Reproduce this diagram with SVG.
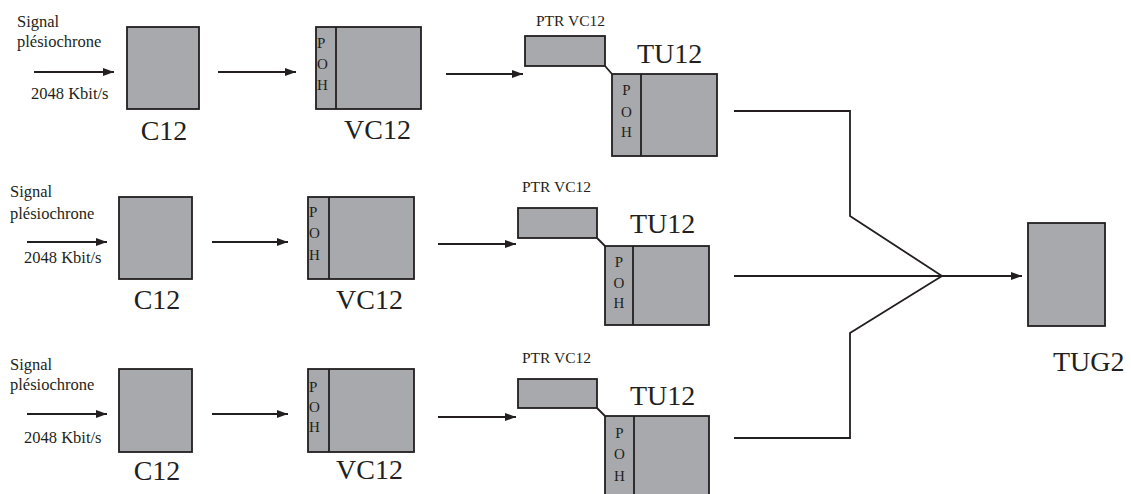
<svg xmlns="http://www.w3.org/2000/svg" width="1131" height="494" viewBox="0 0 1131 494">
<style>
.box{fill:#a7a9ac;stroke:#231f20;stroke-width:1.8}
.ln{fill:none;stroke:#231f20;stroke-width:1.8}
text{fill:#231f20}
.s{font-size:16.5px}
.big{font-size:28px}
.poh{font-size:15px}
.ptr{font-size:15.5px}
.m{text-anchor:middle}
</style>
<defs>
<marker id="ah" markerUnits="userSpaceOnUse" markerWidth="12" markerHeight="9" refX="11" refY="4.5" orient="auto">
<path d="M0,0.5 L11,4.5 L0,8.5 z" fill="#231f20"/>
</marker>
</defs>
<g id="connectors">
<line class="ln" x1="34" y1="72" x2="114" y2="72" marker-end="url(#ah)"/>
<line class="ln" x1="218" y1="72" x2="296" y2="72" marker-end="url(#ah)"/>
<line class="ln" x1="446" y1="74" x2="523" y2="74" marker-end="url(#ah)"/>
<line class="ln" x1="27" y1="242" x2="107" y2="242" marker-end="url(#ah)"/>
<line class="ln" x1="212" y1="242" x2="288" y2="242" marker-end="url(#ah)"/>
<line class="ln" x1="438" y1="244" x2="516" y2="244" marker-end="url(#ah)"/>
<line class="ln" x1="27" y1="414" x2="107" y2="414" marker-end="url(#ah)"/>
<line class="ln" x1="212" y1="414" x2="288" y2="414" marker-end="url(#ah)"/>
<line class="ln" x1="438" y1="417" x2="516" y2="417" marker-end="url(#ah)"/>
<line class="ln" x1="605" y1="66" x2="612" y2="74"/>
<line class="ln" x1="597" y1="238" x2="605" y2="246"/>
<line class="ln" x1="597" y1="408" x2="605" y2="416"/>
<polyline class="ln" points="734,111 850,111 850,216 942,276"/>
<line class="ln" x1="734" y1="276" x2="942" y2="276"/>
<polyline class="ln" points="734,438 850,438 850,333 942,276"/>
<line class="ln" x1="942" y1="276" x2="1022" y2="276" marker-end="url(#ah)"/>
</g>
<g font-family="'Liberation Serif', 'Times New Roman', serif">
<g id="input1">
<text class="s" x="17" y="27">Signal</text>
<text class="s" x="17" y="47">plésiochrone</text>
<text class="s" x="31" y="99">2048 Kbit/s</text>
</g>
<g id="input2">
<text class="s" x="10" y="197">Signal</text>
<text class="s" x="10" y="219">plésiochrone</text>
<text class="s" x="24" y="263">2048 Kbit/s</text>
</g>
<g id="input3">
<text class="s" x="10" y="370">Signal</text>
<text class="s" x="10" y="390">plésiochrone</text>
<text class="s" x="24" y="443">2048 Kbit/s</text>
</g>
<g id="c12-1">
<rect class="box" x="127" y="27" width="72" height="82"/>
<text class="big m" x="164" y="140">C12</text>
</g>
<g id="c12-2">
<rect class="box" x="119" y="197" width="73" height="82"/>
<text class="big m" x="157" y="309">C12</text>
</g>
<g id="c12-3">
<rect class="box" x="119" y="369" width="73" height="83"/>
<text class="big m" x="157" y="480">C12</text>
</g>
<g id="vc12-1">
<rect class="box" x="316" y="27" width="105" height="82"/>
<line class="ln" x1="336" y1="27" x2="336" y2="109"/>
<text class="poh" x="317" y="48">P</text>
<text class="poh" x="317" y="69">O</text>
<text class="poh" x="317" y="90">H</text>
<text class="big m" x="377.5" y="139">VC12</text>
</g>
<g id="vc12-2">
<rect class="box" x="308" y="197" width="106" height="82"/>
<line class="ln" x1="329" y1="197" x2="329" y2="279"/>
<text class="poh" x="309" y="217">P</text>
<text class="poh" x="309" y="238">O</text>
<text class="poh" x="309" y="260">H</text>
<text class="big m" x="369.5" y="309">VC12</text>
</g>
<g id="vc12-3">
<rect class="box" x="308" y="369" width="106" height="83"/>
<line class="ln" x1="329" y1="369" x2="329" y2="452"/>
<text class="poh" x="309" y="392">P</text>
<text class="poh" x="309" y="412">O</text>
<text class="poh" x="309" y="432">H</text>
<text class="big m" x="369.5" y="479">VC12</text>
</g>
<g id="tu12-1">
<text class="ptr" x="536" y="26">PTR VC12</text>
<rect class="box" x="525" y="36" width="80" height="30"/>
<rect class="box" x="612" y="74" width="105" height="82"/>
<line class="ln" x1="641" y1="74" x2="641" y2="156"/>
<text class="poh m" x="626.5" y="95">P</text>
<text class="poh m" x="626.5" y="117">O</text>
<text class="poh m" x="626.5" y="137">H</text>
<text class="big" x="637" y="63">TU12</text>
</g>
<g id="tu12-2">
<text class="ptr" x="522" y="192">PTR VC12</text>
<rect class="box" x="518" y="208" width="79" height="30"/>
<rect class="box" x="605" y="246" width="104" height="79"/>
<line class="ln" x1="633" y1="246" x2="633" y2="325"/>
<text class="poh m" x="619" y="267">P</text>
<text class="poh m" x="619" y="288">O</text>
<text class="poh m" x="619" y="308">H</text>
<text class="big" x="630" y="233">TU12</text>
</g>
<g id="tu12-3">
<text class="ptr" x="522" y="363">PTR VC12</text>
<rect class="box" x="518" y="379" width="79" height="29"/>
<rect class="box" x="605" y="416" width="104" height="84"/>
<line class="ln" x1="634" y1="416" x2="634" y2="500"/>
<text class="poh m" x="619.5" y="438">P</text>
<text class="poh m" x="619.5" y="459">O</text>
<text class="poh m" x="619.5" y="481">H</text>
<text class="big" x="630" y="405">TU12</text>
</g>
<g id="tug2">
<rect class="box" x="1028" y="223" width="77" height="103"/>
<text class="big" x="1053" y="371">TUG2</text>
</g>
</g>
</svg>
